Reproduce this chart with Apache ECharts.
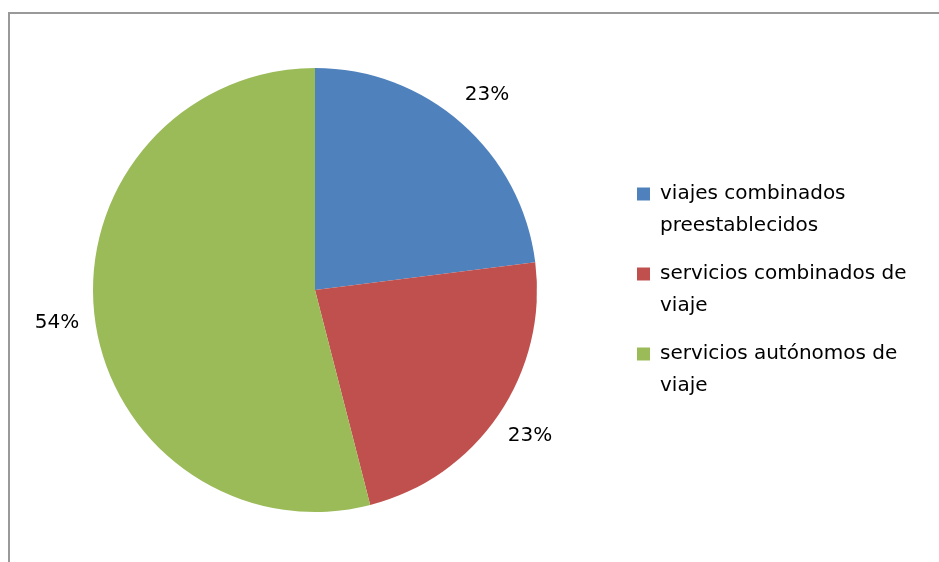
<!DOCTYPE html>
<html>
<head>
<meta charset="utf-8">
<script src="https://cdn.jsdelivr.net/npm/echarts@6/dist/echarts.min.js"></script>
<style>
  html, body { margin: 0; padding: 0; background: #fff; }
  #chart { width: 939px; height: 562px; }
</style>
</head>
<body>
<div id="chart"></div>
<script>
    // datos
    const categories = [
        'viajes combinados\npreestablecidos',
        'servicios combinados de\nviaje',
        'servicios autónomos de\nviaje'
    ];
    const values = [23, 23, 54];
    const colors = ['#4F81BD', '#C0504D', '#9BBB59'];

    const pieData = categories.map((name, i) => ({ name: name, value: values[i], itemStyle: { color: colors[i] } }));

    const FONT = 'DejaVu Sans';

    let chart = echarts.init(document.getElementById('chart'), null, { renderer: 'canvas' });

    chart.setOption({
        animation: false,
        backgroundColor: '#fff',
        graphic: [{
            type: 'rect',
            shape: { x: 9, y: 13, width: 1200, height: 1200 },
            style: { fill: 'none', stroke: '#999', lineWidth: 2 },
            silent: true
        }],
        legend: {
            orient: 'vertical',
            left: 637,
            top: 146,
            padding: 0,
            itemWidth: 13,
            itemHeight: 13,
            itemGap: -16,
            icon: 'rect',
            data: categories,
            // linea vacia arriba para que el icono quede a la altura de la primera linea
            formatter: name => '\n' + name,
            textStyle: {
                fontFamily: FONT,
                fontSize: 20,
                color: '#000',
                lineHeight: 32,
                padding: [0, 0, 0, 5]
            }
        },
        series: [
            {
                // tarta visible
                type: 'pie',
                center: [315, 290],
                radius: [0, 222],
                startAngle: 90,
                clockwise: true,
                silent: true,
                label: { show: false },
                labelLine: { show: false },
                itemStyle: { borderWidth: 0 },
                data: pieData
            },
            {
                // serie transparente solo para colocar las etiquetas de porcentaje
                type: 'pie',
                center: [315, 290],
                radius: [0, 514],
                startAngle: 90,
                clockwise: true,
                silent: true,
                z: 1,
                itemStyle: { color: 'rgba(0,0,0,0)', borderWidth: 0 },
                label: {
                    show: true,
                    position: 'inside',
                    formatter: p => p.value + '%',
                    fontFamily: FONT,
                    fontSize: 20,
                    color: '#000'
                },
                labelLine: { show: false },
                data: categories.map((name, i) => ({ name: name, value: values[i] }))
            }
        ]
    });
</script>
</body>
</html>
